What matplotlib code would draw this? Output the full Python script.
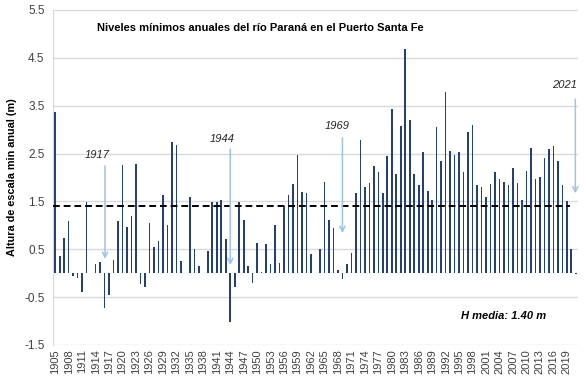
import numpy as np
import matplotlib
matplotlib.use("Agg")
import matplotlib.pyplot as plt

plt.rcParams['font.family'] = ['Liberation Sans', 'DejaVu Sans']

# niveles minimos anuales (m), 1905-2021
years = list(range(1905, 2022))
levels = [3.37, 0.36, 0.74, 1.09, -0.06, -0.11, -0.39, 1.49, 0.0, 0.19,   # 1905-1914
          0.23, -0.73, -0.45, 0.27, 1.08, 2.25, 0.97, 1.19, 2.29, -0.22,  # 1915-1924
          -0.29, 1.05, 0.55, 0.67, 1.64, 1.00, 2.74, 2.67, 0.25, 0.0,     # 1925-1934
          1.60, 0.50, 0.15, 0.0, 0.46, 1.49, 1.49, 1.52, 0.71, -1.02,     # 1935-1944
          -0.28, 1.49, 1.11, 0.15, -0.20, 0.63, 0.03, 0.61, 0.20, 1.01,   # 1945-1954
          0.21, 1.40, 1.64, 1.86, 2.46, 1.69, 1.67, 0.39, 0.0, 0.50,      # 1955-1964
          1.90, 1.12, 0.94, 0.07, -0.13, 0.20, 0.42, 1.68, 2.79, 1.81,    # 1965-1974
          1.89, 2.24, 2.12, 1.68, 2.45, 3.43, 2.08, 3.08, 4.69, 3.19,     # 1975-1984
          2.07, 1.85, 2.53, 1.71, 1.53, 3.06, 2.34, 3.79, 2.56, 2.46,     # 1985-1994
          2.53, 2.11, 2.94, 3.10, 1.84, 1.81, 1.60, 1.86, 2.12, 1.96,     # 1995-2004
          1.90, 1.85, 2.19, 1.88, 1.53, 2.13, 2.61, 1.97, 2.00, 2.40,     # 2005-2014
          2.59, 2.66, 2.34, 1.85, 1.50, 0.50, -0.02]                      # 2015-2021
h_media = 1.40
tick_years = list(range(1905, 2020, 3))
y_ticks = [-1.5, -0.5, 0.5, 1.5, 2.5, 3.5, 4.5, 5.5]

# anotaciones: texto, x del texto, y del texto, x flecha, y inicio, y punta
notes = [('1917', 1914.4, 2.46, 1916.1, 2.30, 0.24),
         ('1944', 1942.2, 2.80, 1944.0, 2.65, 0.11),
         ('1969', 1967.8, 3.07, 1969.0, 2.88, 0.78),
         ('2021', 2018.6, 3.94, 2020.9, 3.69, 1.61)]

fig = plt.figure(figsize=(5.86, 3.82), dpi=100)
ax = fig.add_axes([0.0904, 0.097, 0.896, 0.877])

x = np.arange(len(years))
ax.bar(x, levels, width=0.36, color='#243f7e', zorder=3)
ax.axhline(h_media, xmin=0, xmax=0.985, color='black', ls='--', lw=1.4,
           dashes=(3.5, 2), zorder=4)

ax.set_xlim(-0.5, len(years) - 0.5)
ax.set_ylim(-1.5, 5.5)
ax.set_yticks(y_ticks)
ax.set_yticklabels([f'{v:.1f}' for v in y_ticks])
ax.set_xticks([years.index(y) for y in tick_years])
ax.set_xticklabels([str(y) for y in tick_years], rotation=90)
ax.tick_params(axis='both', length=0, labelsize=8, colors='#404040', pad=3)
ax.tick_params(axis='y', labelsize=8.5, pad=6)
ax.grid(axis='y', color='#d9d9d9', lw=1, zorder=0)
for s in ['top', 'right', 'bottom']:
    ax.spines[s].set_visible(False)
ax.spines['left'].set_color('#d9d9d9')

ax.set_ylabel('Altura de escala min anual (m)', fontsize=7.8,
              fontweight='bold', color='black', labelpad=5)

ax.text(0.394, 0.946, 'Niveles mínimos anuales del río Paraná en el Puerto Santa Fe',
        transform=ax.transAxes, ha='center', va='center', fontsize=8,
        fontweight='bold')
ax.text(0.939, -0.89, 'H media: 1.40 m', transform=ax.get_yaxis_transform(),
        ha='right', va='center', fontsize=8, fontweight='bold', style='italic')

for txt, tx, ty, axx, y0, y1 in notes:
    ax.text(tx - 1905, ty, txt, ha='center', va='center', fontsize=8,
            style='italic', color='#262626')
    ax.annotate('', xy=(axx - 1905, y1), xytext=(axx - 1905, y0),
                arrowprops=dict(arrowstyle='->', color='#9dc3e6', lw=1.1,
                                mutation_scale=9), zorder=5)

fig.savefig('out.png', dpi=100)
